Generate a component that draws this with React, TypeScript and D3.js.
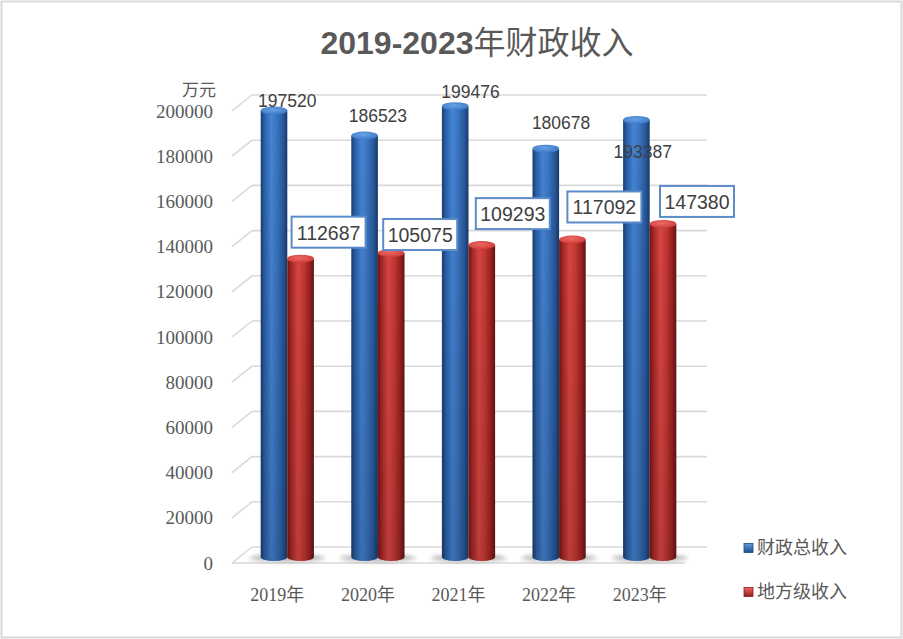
import { useEffect } from 'react';
import * as d3 from 'd3';

// chart data
const categories = ['2019年', '2020年', '2021年', '2022年', '2023年'];
const seriesNames = ['财政总收入', '地方级收入'];
const totalValues = [197520, 186523, 199476, 180678, 193387];
// the red cylinders stand higher than their printed labels
const localHeights = [132000, 134500, 138000, 140500, 147380];
const totalLabels = ['197520', '186523', '199476', '180678', '193387'];
const localLabels = ['112687', '105075', '109293', '117092', '147380'];
const yTicks = [0, 20000, 40000, 60000, 80000, 100000, 120000, 140000, 160000, 180000, 200000];

// where the label sits relative to its bar (pixels)
const totalLabelShift = [[0, -10], [0, -20], [2, -14], [2, -26], [-7, 32]];
const localLabelShift = [[28, -26], [29, -18], [31, -31], [32, -32], [34, -22]];

const W = 903;
const H = 639;
const depthX = 20;
const depthY = 16;
const frontLeft = 232;
const frontRight = 685;

export default function App() {
  useEffect(() => {
    document.body.style.margin = '0';
  }, []);

  const x = d3.scaleBand<string>().domain(categories).range([frontLeft, frontRight]);
  const yBack = d3.scaleLinear().domain([0, 200000]).range([547, 95]);
  const yFront = (v: number) => yBack(v) + depthY;

  // cylinders stand at mid depth
  const barDx = 10;
  const barDy = 10;
  const rx = 13.3;
  const ry = 4;
  const base = yBack(0) + barDy;
  const mid = (c: string) => (x(c) ?? 0) + x.bandwidth() / 2 + barDx;

  const cylinder = (cx: number, v: number, fill: string, topFill: string, key: string) => {
    const top = yBack(v) + barDy;
    const x0 = cx - rx;
    const x1 = cx + rx;
    const body = `M${x0},${top} L${x0},${base} A${rx},${ry} 0 0 0 ${x1},${base} L${x1},${top} Z`;
    return (
      <g key={key}>
        <path d={body} fill={fill} />
        <path d={body} fill="url(#shade)" />
        <ellipse cx={cx} cy={top} rx={rx} ry={ry} fill={topFill} />
      </g>
    );
  };

  const labelFont = "'Liberation Sans', Arial, sans-serif";
  const axisFont = "'Liberation Serif', 'Noto Sans CJK SC', serif";
  const cjkFont = "'Noto Sans CJK SC', sans-serif";

  return (
    <svg width={W} height={H} style={{ display: 'block', background: '#fff' }}>
      <defs>
        <linearGradient id="blueBody" x1="0" x2="1" y1="0" y2="0">
          <stop offset="0%" stopColor="#1b3f73" />
          <stop offset="15%" stopColor="#2c62ab" />
          <stop offset="40%" stopColor="#4686d5" />
          <stop offset="62%" stopColor="#3874c2" />
          <stop offset="85%" stopColor="#28589a" />
          <stop offset="100%" stopColor="#183a69" />
        </linearGradient>
        <linearGradient id="redBody" x1="0" x2="1" y1="0" y2="0">
          <stop offset="0%" stopColor="#761515" />
          <stop offset="15%" stopColor="#ae2a28" />
          <stop offset="40%" stopColor="#e04a45" />
          <stop offset="62%" stopColor="#cc3935" />
          <stop offset="85%" stopColor="#9c2322" />
          <stop offset="100%" stopColor="#6a1212" />
        </linearGradient>
        <radialGradient id="blueTop" cx="0.45" cy="0.4" r="0.7">
          <stop offset="0%" stopColor="#6aa2e4" />
          <stop offset="100%" stopColor="#3572c2" />
        </radialGradient>
        <radialGradient id="redTop" cx="0.45" cy="0.4" r="0.7">
          <stop offset="0%" stopColor="#ec6a64" />
          <stop offset="100%" stopColor="#cc3733" />
        </radialGradient>
        <linearGradient id="shade" gradientUnits="userSpaceOnUse" x1="0" x2="0" y1={95} y2={base}>
          <stop offset="0%" stopColor="#000" stopOpacity="0" />
          <stop offset="100%" stopColor="#000" stopOpacity="0.16" />
        </linearGradient>
        <linearGradient id="legBlue" x1="0" x2="0" y1="0" y2="1">
          <stop offset="0%" stopColor="#5f9be0" />
          <stop offset="100%" stopColor="#1f4f8f" />
        </linearGradient>
        <linearGradient id="legRed" x1="0" x2="0" y1="0" y2="1">
          <stop offset="0%" stopColor="#ee6660" />
          <stop offset="100%" stopColor="#93201f" />
        </linearGradient>
        <filter id="blur" x="-50%" y="-200%" width="200%" height="500%">
          <feGaussianBlur stdDeviation="2.2" />
        </filter>
      </defs>

      {/* outer border */}
      <rect x={1.5} y={1.5} width={W - 3} height={H - 3} fill="#fff" stroke="#d9d9d9" strokeWidth={2} />

      {/* title */}
      <text x={477} y={54} textAnchor="middle" fill="#595959" fontSize={32}>
        <tspan fontFamily={labelFont} fontWeight="bold">2019-2023</tspan>
        <tspan fontFamily={cjkFont}>年财政收入</tspan>
      </text>

      {/* back wall gridlines with left side diagonals */}
      {yTicks.map((t) => (
        <g key={`g${t}`} stroke="#d9d9d9" strokeWidth={1.6} fill="none">
          <line x1={frontLeft + depthX} x2={707} y1={yBack(t)} y2={yBack(t)} />
          <line x1={frontLeft} x2={frontLeft + depthX} y1={yFront(t)} y2={yBack(t)} />
        </g>
      ))}
      {/* floor front edge */}
      <line x1={frontLeft} x2={frontRight} y1={yFront(0)} y2={yFront(0)} stroke="#d9d9d9" strokeWidth={1.6} />

      {/* y tick labels */}
      {yTicks.map((t) => (
        <text key={`t${t}`} x={213} y={yFront(t)} dy="0.35em" textAnchor="end" fontFamily={axisFont} fontSize={19} fill="#595959">
          {t}
        </text>
      ))}
      <text x={199} y={90} dy="0.35em" textAnchor="middle" fontFamily={cjkFont} fontSize={17} fill="#595959">万元</text>

      {/* floor shadows */}
      {categories.map((c) => (
        <ellipse key={`s${c}`} cx={mid(c)} cy={base + 1} rx={38} ry={3.5} fill="#777" opacity={0.55} filter="url(#blur)" />
      ))}

      {/* cylinders */}
      {categories.map((c, i) => cylinder(mid(c) - rx, totalValues[i], 'url(#blueBody)', 'url(#blueTop)', `b${c}`))}
      {categories.map((c, i) => cylinder(mid(c) + rx, localHeights[i], 'url(#redBody)', 'url(#redTop)', `r${c}`))}

      {/* labels of total revenue */}
      {categories.map((c, i) => (
        <text
          key={`lt${c}`}
          x={mid(c) + totalLabelShift[i][0]}
          y={yBack(totalValues[i]) + barDy + totalLabelShift[i][1]}
          dy="0.35em"
          textAnchor="middle"
          fontFamily={labelFont}
          fontSize={17.5}
          fill="#404040"
        >
          {totalLabels[i]}
        </text>
      ))}

      {/* boxed labels of local revenue */}
      {categories.map((c, i) => {
        const cx = mid(c) + rx + localLabelShift[i][0];
        const cy = yBack(localHeights[i]) + barDy + localLabelShift[i][1];
        return (
          <g key={`ll${c}`}>
            <rect x={cx - 37} y={cy - 16} width={74} height={31} fill="#fff" stroke="#5b8bc8" strokeWidth={2} />
            <text x={cx} y={cy} dy="0.35em" textAnchor="middle" fontFamily={labelFont} fontSize={19.5} fill="#404040">
              {localLabels[i]}
            </text>
          </g>
        );
      })}

      {/* category labels */}
      {categories.map((c) => (
        <text key={`c${c}`} x={(x(c) ?? 0) + x.bandwidth() / 2} y={595} dy="0.35em" textAnchor="middle" fontFamily={axisFont} fontSize={18} fill="#595959">
          {c}
        </text>
      ))}

      {/* legend */}
      {seriesNames.map((s, i) => (
        <g key={s} transform={`translate(744,${548 + i * 44})`}>
          <rect x={0} y={-4.5} width={9} height={9} fill={i === 0 ? 'url(#legBlue)' : 'url(#legRed)'} stroke={i === 0 ? '#1d4a86' : '#8a1d1c'} strokeWidth={0.8} />
          <text x={13} y={0} dy="0.35em" fontFamily={cjkFont} fontSize={18} fill="#595959">{s}</text>
        </g>
      ))}
    </svg>
  );
}
